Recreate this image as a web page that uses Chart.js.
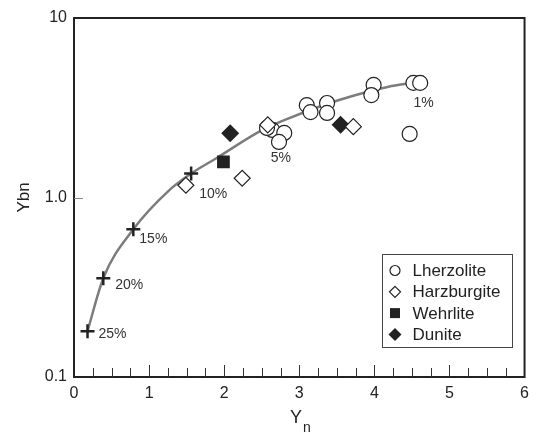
<!DOCTYPE html>
<html>
<head>
<meta charset="utf-8">
<title>Ybn vs Yn</title>
<script src="https://cdn.jsdelivr.net/npm/chart.js@4.4.1/dist/chart.umd.min.js"></script>
<style>
  html, body { margin: 0; padding: 0; background: #fff; }
  #wrap { width: 536px; height: 432px; }
</style>
</head>
<body>
<div id="wrap"><canvas id="chart" width="536" height="432"></canvas></div>
<script>
// melting curve
const curveX = [0.18, 0.39, 0.79, 1.27, 1.56, 1.89, 2.51, 2.86, 3.53, 4.19, 4.50];
const curveY = [0.18, 0.355, 0.665, 1.10, 1.36, 1.65, 2.38, 2.76, 3.49, 4.14, 4.35];

// crosses on the curve
const crossX = [0.18, 0.39, 0.79, 1.56];
const crossY = [0.18, 0.355, 0.665, 1.36];

// degree of melting labels and where they sit on the curve
const meltLabels = ["25%", "20%", "15%", "10%", "5%", "1%"];
const meltX = [0.18, 0.39, 0.79, 1.56, 2.62, 4.52];
const meltY = [0.18, 0.355, 0.665, 1.36, 2.45, 4.35];

// samples
const lherzX = [4.52, 4.61, 4.47, 3.10, 3.15, 3.37, 3.37, 3.99, 3.96, 2.64, 2.80, 2.73, 2.57];
const lherzY = [4.35, 4.35, 2.26, 3.27, 2.99, 3.36, 2.96, 4.24, 3.72, 2.38, 2.29, 2.04, 2.44];
const harzX = [2.58, 3.72, 2.24, 1.49];
const harzY = [2.54, 2.48, 1.28, 1.17];
const wehrX = [1.99];
const wehrY = [1.58];
const dunX = [2.08, 3.55];
const dunY = [2.28, 2.54];

const yTickValues = [0.1, 1, 10];
const yTickLabels = ["0.1", "1.0", "10"];

const FONT = "'Liberation Sans', Arial, sans-serif";
const INK = "#222";

function pts(xs, ys) {
    return xs.map((x, i) => ({ x: x, y: ys[i] }));
}

// little shapes, used for the legend box
function drawMarker(ctx, style, x, y) {
    ctx.save();
    ctx.lineWidth = 1.2;
    ctx.strokeStyle = INK;
    ctx.beginPath();
    if (style === "circle") {
        ctx.arc(x, y, 5, 0, Math.PI * 2);
        ctx.fillStyle = "#fff";
        ctx.fill();
        ctx.stroke();
    } else if (style === "diamond") {
        ctx.moveTo(x, y - 5.5); ctx.lineTo(x + 5.5, y); ctx.lineTo(x, y + 5.5); ctx.lineTo(x - 5.5, y);
        ctx.closePath();
        ctx.fillStyle = "#fff";
        ctx.fill();
        ctx.stroke();
    } else if (style === "square") {
        ctx.rect(x - 5, y - 5, 10, 10);
        ctx.fillStyle = INK;
        ctx.fill();
    } else {
        ctx.moveTo(x, y - 6.5); ctx.lineTo(x + 6.5, y); ctx.lineTo(x, y + 6.5); ctx.lineTo(x - 6.5, y);
        ctx.closePath();
        ctx.fillStyle = INK;
        ctx.fill();
    }
    ctx.restore();
}

const decorPlugin = {
    id: "decor",
    afterDraw(chart) {
        const ctx = chart.ctx;
        const area = chart.chartArea;
        const xs = chart.scales.x;
        const ys = chart.scales.y;

        ctx.save();
        // frame top and right
        ctx.strokeStyle = INK;
        ctx.lineWidth = 2;
        ctx.beginPath();
        ctx.moveTo(area.left - 1, area.top);
        ctx.lineTo(area.right, area.top);
        ctx.lineTo(area.right, area.bottom + 1);
        ctx.stroke();

        // x ticks pointing inwards, every 0.25
        ctx.lineWidth = 1;
        ctx.strokeStyle = "#333";
        for (let v = 0.25; v < 6; v += 0.25) {
            const px = Math.round(xs.getPixelForValue(v)) + 0.5;
            const len = Number.isInteger(v) ? 12 : 9;
            ctx.beginPath();
            ctx.moveTo(px, area.bottom);
            ctx.lineTo(px, area.bottom - len);
            ctx.stroke();
        }
        // y tick at 1.0
        ctx.strokeStyle = "#888";
        const py = Math.round(ys.getPixelForValue(1)) + 0.5;
        ctx.beginPath();
        ctx.moveTo(area.left, py);
        ctx.lineTo(area.left + 9, py);
        ctx.stroke();

        // melting labels
        const offs = [[11, 3], [12, 7], [6, 10], [8, 21], [0, 30], [0, 20]];
        ctx.fillStyle = "#333";
        ctx.font = "14px " + FONT;
        ctx.textAlign = "left";
        ctx.textBaseline = "middle";
        meltLabels.forEach((t, i) => {
            const x = xs.getPixelForValue(meltX[i]) + offs[i][0];
            const y = ys.getPixelForValue(meltY[i]) + offs[i][1];
            ctx.fillText(t, x, y);
        });

        // axis titles
        ctx.fillStyle = INK;
        ctx.font = "17px " + FONT;
        ctx.textAlign = "center";
        ctx.save();
        ctx.translate(24, (area.top + area.bottom) / 2);
        ctx.rotate(-Math.PI / 2);
        ctx.fillText("Ybn", 0, 0);
        ctx.restore();

        ctx.textBaseline = "alphabetic";
        ctx.textAlign = "left";
        ctx.font = "18px " + FONT;
        ctx.fillText("Y", 290, 423);
        ctx.font = "14px " + FONT;
        ctx.fillText("n", 303, 432);

        // legend box
        const bx = 382.5, by = 254.5, bw = 130, bh = 93;
        ctx.fillStyle = "#fff";
        ctx.fillRect(bx, by, bw, bh);
        ctx.strokeStyle = "#444";
        ctx.lineWidth = 1;
        ctx.strokeRect(bx, by, bw, bh);
        const legendSets = chart.data.datasets.filter(d => d.legendStyle);
        ctx.font = "17px " + FONT;
        ctx.textBaseline = "middle";
        ctx.fillStyle = INK;
        legendSets.forEach((d, i) => {
            const cy = by + 16 + i * 21.3;
            drawMarker(ctx, d.legendStyle, bx + 12.5, cy);
            ctx.fillStyle = INK;
            ctx.fillText(d.label, bx + 30, cy + 1);
        });
        ctx.restore();
    }
};

const ctx = document.getElementById("chart").getContext("2d");

new Chart(ctx, {
    type: "scatter",
    data: {
        datasets: [
            {
                label: "Lherzolite",
                legendStyle: "circle",
                data: pts(lherzX, lherzY),
                pointStyle: "circle",
                pointRadius: 7.5,
                backgroundColor: "#fff",
                borderColor: INK,
                borderWidth: 1.2,
                order: 1
            },
            {
                label: "Harzburgite",
                legendStyle: "diamond",
                data: pts(harzX, harzY),
                pointStyle: "rectRot",
                pointRadius: 8,
                backgroundColor: "#fff",
                borderColor: INK,
                borderWidth: 1.2,
                order: 0
            },
            {
                label: "Wehrlite",
                legendStyle: "square",
                data: pts(wehrX, wehrY),
                pointStyle: "rect",
                pointRadius: 9,
                backgroundColor: INK,
                borderColor: INK,
                borderWidth: 0,
                order: 2
            },
            {
                label: "Dunite",
                legendStyle: "dunite",
                data: pts(dunX, dunY),
                pointStyle: "rectRot",
                pointRadius: 9,
                backgroundColor: INK,
                borderColor: INK,
                borderWidth: 0,
                order: 3
            },
            {
                label: "melt steps",
                data: pts(crossX, crossY),
                pointStyle: "cross",
                pointRadius: 7,
                borderColor: INK,
                borderWidth: 2.5,
                order: 4
            },
            {
                label: "melting curve",
                data: pts(curveX, curveY),
                showLine: true,
                cubicInterpolationMode: "monotone",
                pointRadius: 0,
                borderColor: "#7c7c7c",
                borderWidth: 2.5,
                order: 5
            }
        ]
    },
    options: {
        responsive: false,
        devicePixelRatio: 1,
        animation: false,
        events: [],
        layout: { padding: { top: 18, right: 9, left: 0, bottom: 0 } },
        plugins: {
            legend: { display: false },
            tooltip: { enabled: false }
        },
        scales: {
            x: {
                type: "linear",
                min: 0,
                max: 6,
                grid: { display: false, drawTicks: false },
                border: { color: INK, width: 2 },
                ticks: {
                    stepSize: 1,
                    color: INK,
                    padding: 7,
                    font: { family: FONT, size: 16 },
                    maxRotation: 0
                },
                afterFit(scale) { scale.height = 55; }
            },
            y: {
                type: "logarithmic",
                min: 0.1,
                max: 10,
                grid: { display: false, drawTicks: false },
                border: { color: INK, width: 2 },
                afterBuildTicks(scale) {
                    scale.ticks = yTickValues.map(v => ({ value: v, major: true }));
                },
                ticks: {
                    color: INK,
                    padding: 7,
                    font: { family: FONT, size: 16 },
                    callback(value) {
                        const i = yTickValues.findIndex(v => Math.abs(v - value) < 1e-9);
                        return i >= 0 ? yTickLabels[i] : "";
                    }
                },
                afterFit(scale) { scale.width = 74; }
            }
        }
    },
    plugins: [decorPlugin]
});
</script>
</body>
</html>
